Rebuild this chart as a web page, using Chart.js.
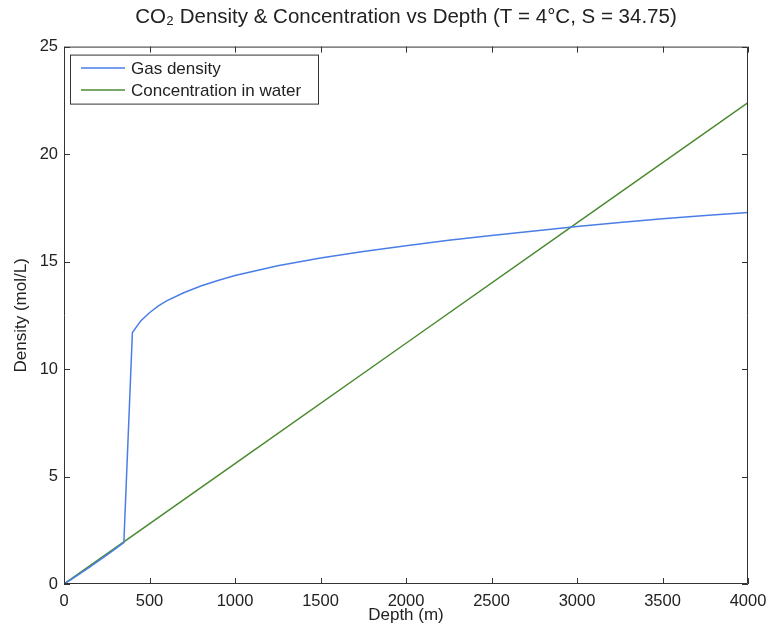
<!DOCTYPE html>
<html>
<head>
<meta charset="utf-8">
<script src="https://cdn.jsdelivr.net/npm/chart.js@4/dist/chart.umd.min.js"></script>
<style>
  html, body { margin: 0; padding: 0; background: #fff; }
  canvas { display: block; }
</style>
</head>
<body>
<canvas id="chartCO2" width="771" height="630"></canvas>
<script>
// depth (m) vs gas density (mol/L)
const gasDepth = [0, 50, 100, 150, 200, 250, 300, 350, 400, 450, 500, 550, 600, 700, 800, 900, 1000, 1250, 1500, 1750, 2000, 2250, 2500, 2750, 3000, 3250, 3500, 3750, 4000];
const gasDensity = [0, 0.25, 0.52, 0.79, 1.06, 1.34, 1.63, 1.93, 11.7, 12.25, 12.62, 12.93, 13.17, 13.55, 13.86, 14.12, 14.35, 14.8, 15.17, 15.47, 15.74, 15.99, 16.21, 16.42, 16.63, 16.82, 16.99, 17.14, 17.28];

// depth (m) vs concentration in water (mol/L)
const concDepth = [0, 1000, 2000, 3000, 4000];
const concValue = [0, 5.6, 11.2, 16.8, 22.4];

const xTicks = [0, 500, 1000, 1500, 2000, 2500, 3000, 3500, 4000];
const yTicks = [0, 5, 10, 15, 20, 25];

const FONT = "'Liberation Sans', Arial, sans-serif";
const AXIS_COLOR = "#333";

// marco y marcas hacia dentro, estilo matlab
const frameTicks = {
    id: "frameTicks",
    afterDraw(chart) {
        const { ctx, chartArea: a, scales } = chart;
        const len = 6;
        ctx.save();
        ctx.strokeStyle = AXIS_COLOR;
        ctx.lineWidth = 1;
        ctx.beginPath();
        ctx.rect(a.left + 0.5, a.top + 0.5, a.right - a.left - 1, a.bottom - a.top - 1);
        xTicks.forEach(v => {
            const px = Math.round(scales.x.getPixelForValue(v)) + 0.5;
            ctx.moveTo(px, a.bottom);
            ctx.lineTo(px, a.bottom - len);
            ctx.moveTo(px, a.top);
            ctx.lineTo(px, a.top + len);
        });
        yTicks.forEach(v => {
            const py = Math.round(scales.y.getPixelForValue(v)) + 0.5;
            ctx.moveTo(a.left, py);
            ctx.lineTo(a.left + len, py);
            ctx.moveTo(a.right, py);
            ctx.lineTo(a.right - len, py);
        });
        ctx.stroke();
        ctx.restore();
    }
};

// leyenda dentro del area del grafico
const insideLegend = {
    id: "insideLegend",
    afterDatasetsDraw(chart) {
        const { ctx, chartArea: a } = chart;
        const x0 = a.left + 6, y0 = a.top + 8;
        const w = 248, h = 49;
        ctx.save();
        ctx.fillStyle = "#fff";
        ctx.fillRect(x0, y0, w, h);
        ctx.strokeStyle = AXIS_COLOR;
        ctx.lineWidth = 1;
        ctx.strokeRect(x0 + 0.5, y0 + 0.5, w, h);
        ctx.font = "17px " + FONT;
        ctx.textBaseline = "middle";
        chart.data.datasets.forEach((ds, i) => {
            const yy = y0 + 13.5 + i * 22;
            ctx.strokeStyle = ds.borderColor;
            ctx.lineWidth = 1.5;
            ctx.beginPath();
            ctx.moveTo(x0 + 11, yy);
            ctx.lineTo(x0 + 55, yy);
            ctx.stroke();
            ctx.fillStyle = "#222";
            ctx.fillText(ds.label, x0 + 61, yy + 1);
        });
        ctx.restore();
    }
};

const ctx = document.getElementById("chartCO2").getContext("2d");

new Chart(ctx, {
    type: "line",
    data: {
        datasets: [
            {
                label: "Gas density",
                data: gasDepth.map((d, i) => ({ x: d, y: gasDensity[i] })),
                borderColor: "#4a7ee6",
                borderWidth: 1.5,
                pointRadius: 0,
                tension: 0
            },
            {
                label: "Concentration in water",
                data: concDepth.map((d, i) => ({ x: d, y: concValue[i] })),
                borderColor: "#4a8a30",
                borderWidth: 1.5,
                pointRadius: 0,
                tension: 0
            }
        ]
    },
    options: {
        responsive: false,
        animation: false,
        layout: { padding: { left: 0, right: 23, top: 0, bottom: 0 } },
        plugins: {
            legend: { display: false },
            tooltip: { enabled: false },
            title: {
                display: true,
                fullSize: false,
                text: "CO\u2082 Density & Concentration vs Depth (T = 4\u00B0C, S = 34.75)",
                color: "#222",
                font: { family: FONT, size: 20.5, weight: "normal" },
                padding: { top: 5, bottom: 17 }
            }
        },
        scales: {
            x: {
                type: "linear",
                min: 0,
                max: 4000,
                afterBuildTicks: s => { s.ticks = xTicks.map(v => ({ value: v })); },
                afterFit: s => { s.height = 46; s.paddingLeft = 0; s.paddingRight = 0; },
                grid: { display: false, drawTicks: false },
                border: { display: false },
                ticks: { color: "#222", padding: 8, maxRotation: 0, font: { family: FONT, size: 16.5 }, callback: v => String(v) },
                title: {
                    display: true,
                    text: "Depth (m)",
                    color: "#222",
                    font: { family: FONT, size: 17 },
                    padding: { top: 0, bottom: 4 }
                }
            },
            y: {
                min: 0,
                max: 25,
                afterBuildTicks: s => { s.ticks = yTicks.map(v => ({ value: v })); },
                afterFit: s => { s.width = 64; s.paddingTop = 0; s.paddingBottom = 0; },
                grid: { display: false, drawTicks: false },
                border: { display: false },
                ticks: { color: "#222", padding: 6, font: { family: FONT, size: 16.5 }, callback: v => String(v) },
                title: {
                    display: true,
                    text: "Density (mol/L)",
                    color: "#222",
                    font: { family: FONT, size: 17 },
                    padding: { top: 11, bottom: 0 }
                }
            }
        }
    },
    plugins: [frameTicks, insideLegend]
});
</script>
</body>
</html>
